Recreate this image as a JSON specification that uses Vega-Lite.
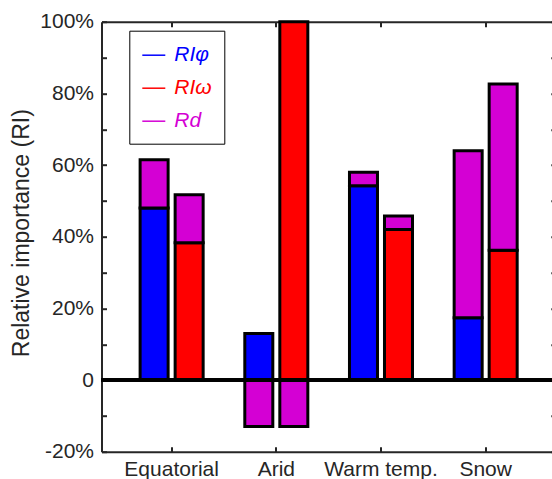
{
  "$schema": "https://vega.github.io/schema/vega-lite/v6.json",
  "width": 450.5,
  "height": 430,
  "autosize": {"type": "none"},
  "padding": {"left": 101.5, "top": 21.7, "right": 0, "bottom": 27.3},
  "config": {
    "view": {"stroke": null},
    "font": "Liberation Sans",
    "axis": {
      "grid": false,
      "domainColor": "#262626",
      "domainWidth": 2,
      "tickColor": "#262626",
      "tickWidth": 2,
      "tickSize": -5,
      "labelColor": "#262626",
      "labelFont": "Liberation Sans",
      "labelFontSize": 21,
      "titleFont": "Liberation Sans"
    }
  },
  "data": {
    "values": [
      {"cat": "Equatorial", "bar": "L", "comp": "RIφ", "lo": 0, "hi": 48},
      {"cat": "Equatorial", "bar": "L", "comp": "Rd", "lo": 48, "hi": 61.5},
      {"cat": "Equatorial", "bar": "R", "comp": "RIω", "lo": 0, "hi": 38.3},
      {"cat": "Equatorial", "bar": "R", "comp": "Rd", "lo": 38.3, "hi": 51.7},
      {"cat": "Arid", "bar": "L", "comp": "RIφ", "lo": 0, "hi": 13},
      {"cat": "Arid", "bar": "L", "comp": "Rd", "lo": -13, "hi": 0},
      {"cat": "Arid", "bar": "R", "comp": "RIω", "lo": 0, "hi": 100},
      {"cat": "Arid", "bar": "R", "comp": "Rd", "lo": -13, "hi": 0},
      {"cat": "Warm temp.", "bar": "L", "comp": "RIφ", "lo": 0, "hi": 54.2},
      {"cat": "Warm temp.", "bar": "L", "comp": "Rd", "lo": 54.2, "hi": 58},
      {"cat": "Warm temp.", "bar": "R", "comp": "RIω", "lo": 0, "hi": 42},
      {"cat": "Warm temp.", "bar": "R", "comp": "Rd", "lo": 42, "hi": 45.8},
      {"cat": "Snow", "bar": "L", "comp": "RIφ", "lo": 0, "hi": 17.4},
      {"cat": "Snow", "bar": "L", "comp": "Rd", "lo": 17.4, "hi": 64},
      {"cat": "Snow", "bar": "R", "comp": "RIω", "lo": 0, "hi": 36.2},
      {"cat": "Snow", "bar": "R", "comp": "Rd", "lo": 36.2, "hi": 82.6}
    ]
  },
  "layer": [
    {
      "mark": {"type": "bar", "stroke": "black", "strokeWidth": 3},
      "encoding": {
        "x": {
          "field": "cat", "type": "nominal",
          "sort": ["Equatorial", "Arid", "Warm temp.", "Snow"],
          "scale": {"range": [0, 454.3], "paddingInner": 0.331, "paddingOuter": 0.3355},
          "axis": {"orient": "bottom", "title": null, "labelAngle": 0, "labelPadding": 12, "bandPosition": 0.5}
        },
        "xOffset": {
          "field": "bar", "type": "nominal", "sort": ["L", "R"],
          "scale": {"paddingInner": 0.2, "paddingOuter": 0.1}
        },
        "y": {
          "field": "lo", "type": "quantitative",
          "scale": {"domain": [-20, 100], "nice": false, "zero": false},
          "axis": {
            "orient": "left",
            "values": [-20, -10, 0, 10, 20, 30, 40, 50, 60, 70, 80, 90, 100],
            "labelExpr": "datum.value % 20 != 0 ? '' : (datum.value == 0 ? '0' : datum.value + '%')",
            "labelPadding": 13,
            "title": "Relative importance (RI)",
            "titleFontSize": 23,
            "titleFontWeight": "normal",
            "titleColor": "#262626",
            "titleX": -80,
            "titleY": 211,
            "titleBaseline": "middle"
          }
        },
        "y2": {"field": "hi"},
        "color": {
          "field": "comp", "type": "nominal",
          "scale": {"domain": ["RIφ", "RIω", "Rd"], "range": ["#0000ff", "#ff0000", "#d400d4"]},
          "legend": {
            "orient": "none",
            "legendX": 27.8,
            "legendY": 9,
            "title": null,
            "symbolType": "stroke",
            "symbolSize": 529,
            "symbolStrokeWidth": 1.5,
            "symbolStrokeColor": {"expr": "scale('color', datum.value)"},
            "labelColor": {"expr": "scale('color', datum.value)"},
            "labelFontSize": 21,
            "labelFontStyle": "italic",
            "labelFont": "Liberation Sans",
            "labelOffset": 8,
            "padding": 12,
            "rowPadding": 10,
            "strokeColor": "black",
            "fillColor": "white",
            "encode": {
              "legend": {"strokeWidth": {"value": 2}}
            }
          }
        }
      }
    },
    {
      "mark": {"type": "rule", "color": "black", "strokeWidth": 2.5},
      "encoding": {"y": {"datum": 0, "type": "quantitative", "axis": null}}
    },
    {
      "mark": {"type": "point", "opacity": 0},
      "encoding": {
        "x": {
          "field": "cat", "type": "nominal",
          "sort": ["Equatorial", "Arid", "Warm temp.", "Snow"],
          "axis": {"orient": "top", "labels": false, "title": null, "bandPosition": 0.5}
        },
        "y": {
          "field": "lo", "type": "quantitative",
          "axis": {
            "orient": "right", "labels": false, "title": null, "offset": 3.8,
            "values": [-20, -10, 0, 10, 20, 30, 40, 50, 60, 70, 80, 90, 100]
          }
        }
      }
    }
  ],
  "resolve": {"axis": {"x": "independent", "y": "independent"}}
}
